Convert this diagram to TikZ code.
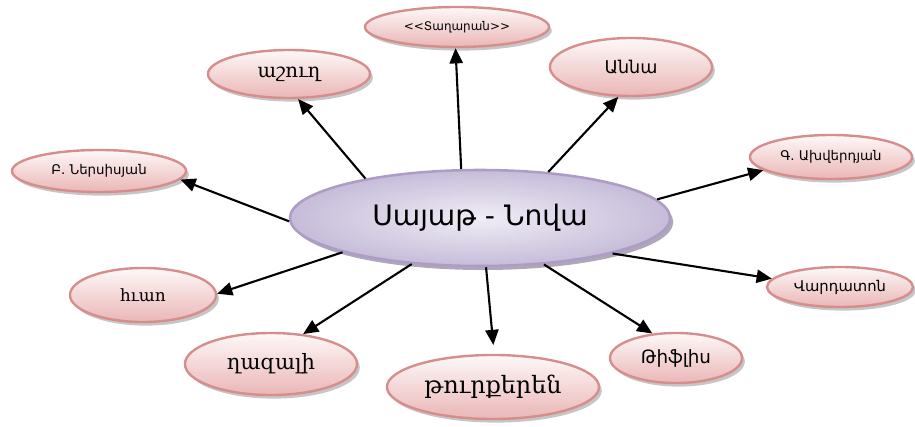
\documentclass[tikz,border=0pt]{standalone}
\usepackage{fontspec}
\usetikzlibrary{shapes}
\usetikzlibrary{shadows}
\usetikzlibrary{arrows.meta}
\usetikzlibrary{positioning}

\newfontfamily\armsans{DejaVu Sans}
\newfontfamily\armserif{DejaVu Serif}

\definecolor{roseline}{RGB}{214,142,140}
\definecolor{rosetop}{RGB}{254,248,248}
\definecolor{rosebottom}{RGB}{234,182,182}
\definecolor{lilacline}{RGB}{172,156,198}
\definecolor{lilacin}{RGB}{240,237,246}
\definecolor{lilacout}{RGB}{198,188,217}

\begin{document}
\begin{tikzpicture}[x=0.025cm, y=-0.025cm]

\useasboundingbox (0,0) rectangle (915,427);

% Styles
\tikzstyle{topic} =
	[ellipse, draw=roseline, line width=1.7pt, top color=rosetop, bottom color=rosebottom,
	 inner sep=0pt, text centered,
	 drop shadow={shadow xshift=0.07cm, shadow yshift=-0.09cm, fill=black!50, opacity=0.45}]

\tikzstyle{hub} =
	[ellipse, draw=lilacline, line width=1.8pt, inner color=lilacin, outer color=lilacout,
	 inner sep=0pt, text centered,
	 drop shadow={shadow xshift=0.08cm, shadow yshift=-0.1cm, fill=lilacline!70!black, opacity=0.6}]

\tikzstyle{link} =
	[-{Triangle[length=0.38cm, width=0.33cm]}, line width=1.5pt]

% Modules

\node (Main) at (480,218) [hub, minimum width=9.5cm, minimum height=2.4cm]
	{\armsans\fontsize{20}{24}\selectfont Սայաթ - Նովա};

\node (Tagharan) at (457,27) [topic, minimum width=4.6cm, minimum height=1.0cm]
	{\armsans\fontsize{8.5}{10}\selectfont <<Տաղարան>>};
\node (Ashugh) at (289,74) [topic, minimum width=4.05cm, minimum height=1.2cm]
	{\armserif\fontsize{14}{16}\selectfont աշուղ};
\node (Anna) at (631,67) [topic, minimum width=4.05cm, minimum height=1.45cm]
	{\armsans\fontsize{12.5}{15}\selectfont Աննա};
\node (Nersisyan) at (99,171) [topic, minimum width=4.35cm, minimum height=1.05cm]
	{\armsans\fontsize{9.5}{11}\selectfont Բ. Ներսիսյան};
\node (Akhverdyan) at (831,157) [topic, minimum width=4.05cm, minimum height=1.1cm]
	{\armsans\fontsize{9.5}{11}\selectfont Գ. Ախվերդյան};
\node (Hvao) at (143,295) [topic, minimum width=3.65cm, minimum height=1.35cm]
	{\armserif\fontsize{12}{14}\selectfont հւաո};
\node (Vardaton) at (840,287) [topic, minimum width=3.65cm, minimum height=1.0cm]
	{\armsans\fontsize{10.5}{12}\selectfont Վարդատոն};
\node (Ghazal) at (271,364) [topic, minimum width=4.3cm, minimum height=1.55cm]
	{\armserif\fontsize{15}{17}\selectfont ղազալի};
\node (Turkeren) at (493,387) [topic, minimum width=5.3cm, minimum height=1.6cm]
	{\armserif\fontsize{17}{19}\selectfont թուրքերեն};
\node (Tiflis) at (676,358) [topic, minimum width=3.3cm, minimum height=1.25cm]
	{\armsans\fontsize{13}{15}\selectfont Թիֆլիս};

% Edges

\path[link]
	(Main.111) edge (Tagharan.266)
	(Main.161) edge (Ashugh.290)
	(Main.34) edge (Anna.247)
	(Main.181) edge (Nersisyan.354)
	(Main.6) edge (Akhverdyan.191)
	(Main.194) edge (Hvao.1)
	(Main.345) edge (Vardaton.173)
	(Main.214) edge (Ghazal.43)
	(Main.277) edge[shorten >=0.22cm] (Turkeren.88)
	(Main.324) edge (Tiflis.134);

\end{tikzpicture}
\end{document}
